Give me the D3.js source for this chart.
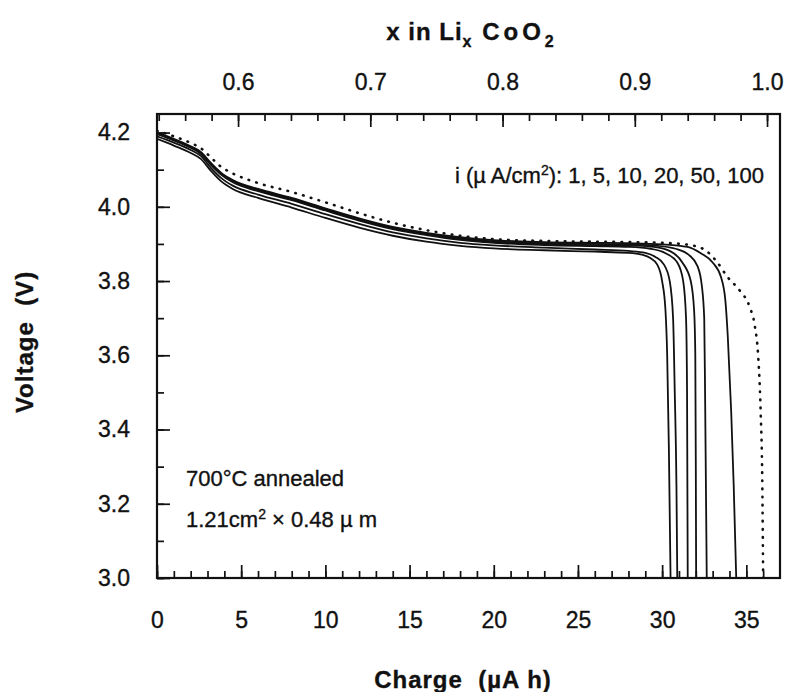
<!DOCTYPE html>
<html>
<head>
<meta charset="utf-8">
<script src="https://cdn.jsdelivr.net/npm/d3@7"></script>
<style>
  body { margin: 0; background: #fff; }
  text { font-family: "Liberation Sans", Arial, sans-serif; fill: #111; stroke: #111; stroke-width: 0.35px; }
</style>
</head>
<body>
<div id="chart"></div>
<script>
// charge (µAh) vs voltage (V)
const curveDotted = [[0,4.205],[1,4.19],[2,4.172],[2.6,4.158],[3.2,4.133],[3.8,4.108],[4.5,4.09],[6,4.064],[8,4.04],[10,4.012],[12,3.983],[14,3.957],[16,3.937],[18,3.922],[20,3.913],[23,3.908],[26,3.906],[28,3.905],[30,3.903],[31.5,3.898],[32.5,3.885],[33.2,3.855],[33.9,3.81],[34.6,3.775],[35.2,3.73],[35.5,3.68],[35.7,3.6],[35.85,3.45],[35.95,3.25],[36.0,3.0]];
const curveB = [[0,4.2],[1,4.183],[2,4.163],[2.6,4.148],[3.2,4.118],[3.8,4.092],[4.5,4.072],[6,4.048],[8,4.024],[10,3.996],[12,3.969],[14,3.946],[16,3.93],[18,3.918],[20,3.91],[23,3.905],[26,3.903],[28,3.902],[30,3.899],[31.5,3.892],[32.3,3.875],[33.0,3.85],[33.5,3.81],[33.75,3.75],[33.9,3.65],[34.1,3.45],[34.25,3.25],[34.4,3.0]];
const curveC = [[0,4.198],[1,4.181],[2,4.161],[2.6,4.146],[3.2,4.116],[3.8,4.09],[4.5,4.07],[6,4.046],[8,4.022],[10,3.994],[12,3.967],[14,3.944],[16,3.928],[18,3.915],[20,3.907],[23,3.902],[26,3.9],[28,3.899],[29.5,3.896],[30.8,3.887],[31.6,3.87],[32.1,3.84],[32.35,3.79],[32.5,3.7],[32.55,3.5],[32.6,3.25],[32.65,3.0]];
const curveD = [[0,4.197],[1,4.18],[2,4.16],[2.6,4.145],[3.2,4.115],[3.8,4.089],[4.5,4.068],[6,4.044],[8,4.02],[10,3.992],[12,3.965],[14,3.942],[16,3.926],[18,3.913],[20,3.905],[23,3.899],[26,3.897],[28,3.896],[29.5,3.892],[30.5,3.88],[31.2,3.85],[31.7,3.8],[31.9,3.72],[31.97,3.6],[32.0,3.3],[32.02,3.0]];
const curveE = [[0,4.196],[1,4.179],[2,4.159],[2.6,4.143],[3.2,4.113],[3.8,4.087],[4.5,4.066],[6,4.042],[8,4.018],[10,3.99],[12,3.963],[14,3.94],[16,3.924],[18,3.911],[20,3.903],[23,3.897],[26,3.894],[28,3.892],[29.3,3.887],[30.2,3.875],[30.9,3.85],[31.25,3.8],[31.42,3.7],[31.48,3.5],[31.52,3.0]];
const curveF = [[0,4.19],[1,4.173],[2,4.153],[2.6,4.137],[3.2,4.105],[3.8,4.078],[4.5,4.057],[6,4.033],[8,4.008],[10,3.98],[12,3.954],[14,3.931],[16,3.915],[18,3.903],[20,3.896],[23,3.89],[26,3.885],[28,3.881],[29,3.876],[29.6,3.865],[30.1,3.845],[30.45,3.8],[30.65,3.7],[30.75,3.5],[30.85,3.25],[30.9,3.0]];
const curveG = [[0,4.183],[1,4.165],[2,4.145],[2.6,4.129],[3.2,4.097],[3.8,4.069],[4.5,4.048],[6,4.024],[8,3.998],[10,3.97],[12,3.944],[14,3.922],[16,3.906],[18,3.895],[20,3.888],[23,3.883],[26,3.879],[28,3.876],[28.8,3.871],[29.3,3.862],[29.7,3.845],[30.0,3.8],[30.2,3.72],[30.3,3.6],[30.4,3.35],[30.5,3.0]];

const solidCurves = [curveB, curveC, curveD, curveE, curveF, curveG];

const chargeTicks = [0, 5, 10, 15, 20, 25, 30, 35];
const voltTicks = [3.0, 3.2, 3.4, 3.6, 3.8, 4.0, 4.2];
const xLiTicks = [0.6, 0.7, 0.8, 0.9, 1.0];

const width = 793;
const height = 692;
const plotLeft = 157, plotRight = 780, plotTop = 114, plotBottom = 578;

const svg = d3.select("#chart")
    .append("svg")
    .attr("width", width)
    .attr("height", height);

const x = d3.scaleLinear().domain([0, 37]).range([plotLeft, plotRight]);
const y = d3.scaleLinear().domain([3.0, 4.25]).range([plotBottom, plotTop]);
const xTop = d3.scaleLinear().domain([0.5387, 1.0098]).range([plotLeft, plotRight]);

// minor ticks first, then the labelled majors
function minor(axis) {
    return g => g.call(axis).call(g => g.select(".domain").remove())
        .call(g => g.selectAll("text").remove());
}

svg.append("g")
    .attr("transform", `translate(0,${plotBottom})`)
    .call(minor(d3.axisBottom(x).tickValues(d3.range(0, 37, 1)).tickSize(-7)));
svg.append("g")
    .attr("transform", `translate(${plotLeft},0)`)
    .call(minor(d3.axisLeft(y).tickValues(d3.range(3.0, 4.25, 0.1)).tickSize(-7)));
svg.append("g")
    .attr("transform", `translate(0,${plotTop})`)
    .call(minor(d3.axisTop(xTop).tickValues(d3.range(0.54, 1.01, 0.02)).tickSize(-7)));

const xAxis = svg.append("g")
    .attr("transform", `translate(0,${plotBottom})`)
    .call(d3.axisBottom(x).tickValues(chargeTicks).tickSize(-13).tickPadding(34).tickFormat(d3.format("d")));
const yAxis = svg.append("g")
    .attr("transform", `translate(${plotLeft},0)`)
    .call(d3.axisLeft(y).tickValues(voltTicks).tickSize(-13).tickPadding(27).tickFormat(d3.format(".1f")));
const topAxis = svg.append("g")
    .attr("transform", `translate(0,${plotTop})`)
    .call(d3.axisTop(xTop).tickValues(xLiTicks).tickSize(-13).tickPadding(24).tickFormat(d3.format(".1f")));

[xAxis, yAxis, topAxis].forEach(a => {
    a.select(".domain").remove();
    a.selectAll("text")
        .style("font-size", "23px")
        .style("font-family", "Liberation Sans, Arial, sans-serif")
        .attr("fill", "#111");
});
svg.selectAll(".tick line").attr("stroke", "#111").attr("stroke-width", 1.7);

// frame
svg.append("rect")
    .attr("x", plotLeft).attr("y", plotTop)
    .attr("width", plotRight - plotLeft).attr("height", plotBottom - plotTop)
    .attr("fill", "none")
    .attr("stroke", "#111")
    .attr("stroke-width", 2.2);

svg.append("clipPath").attr("id", "clip")
    .append("rect").attr("x", plotLeft).attr("y", plotTop).attr("width", plotRight - plotLeft).attr("height", plotBottom - plotTop);

const line = d3.line()
    .x(d => x(d[0]))
    .y(d => y(d[1]))
    .curve(d3.curveMonotoneX);

const plot = svg.append("g").attr("clip-path", "url(#clip)");

plot.selectAll(".solid")
    .data(solidCurves)
    .enter().append("path")
    .attr("class", "solid")
    .attr("d", line)
    .attr("fill", "none")
    .attr("stroke", "#111")
    .attr("stroke-width", 1.8);

plot.append("path")
    .datum(curveDotted)
    .attr("d", line)
    .attr("fill", "none")
    .attr("stroke", "#111")
    .attr("stroke-width", 2.6)
    .attr("stroke-linecap", "round")
    .attr("stroke-dasharray", "0.6,7.5");

// titles
const topTitle = svg.append("text")
    .attr("x", 470).attr("y", 40)
    .attr("text-anchor", "middle")
    .style("font-size", "24px")
    .style("font-weight", "bold");
topTitle.append("tspan").attr("letter-spacing", "1px").text("x in Li");
topTitle.append("tspan").attr("dy", 7).style("font-size", "16px").text("x");
topTitle.append("tspan").attr("dy", -7).attr("letter-spacing", "4px").text(" CoO");
topTitle.append("tspan").attr("dy", 7).style("font-size", "16px").text("2");

svg.append("text")
    .attr("x", 463).attr("y", 688)
    .attr("text-anchor", "middle")
    .attr("letter-spacing", "1px")
    .style("font-size", "24px")
    .style("font-weight", "bold")
    .text("Charge\u00a0\u00a0(µA h)");

svg.append("text")
    .attr("transform", "translate(33,342) rotate(-90)")
    .attr("text-anchor", "middle")
    .attr("letter-spacing", "1px")
    .style("font-size", "24px")
    .style("font-weight", "bold")
    .text("Voltage\u00a0\u00a0(V)");

// annotations
const legend = svg.append("text")
    .attr("x", 764).attr("y", 183)
    .attr("text-anchor", "end")
    .style("font-size", "22px");
legend.append("tspan").text("i (µ A/cm");
legend.append("tspan").attr("dy", -8).style("font-size", "14px").text("2");
legend.append("tspan").attr("dy", 8).text("): 1, 5, 10, 20, 50, 100");

svg.append("text")
    .attr("x", 186).attr("y", 486)
    .style("font-size", "22px")
    .text("700°C annealed");

const dims = svg.append("text")
    .attr("x", 186).attr("y", 527)
    .style("font-size", "22px");
dims.append("tspan").text("1.21cm");
dims.append("tspan").attr("dy", -8).style("font-size", "14px").text("2");
dims.append("tspan").attr("dy", 8).text(" × 0.48 µ m");
</script>
</body>
</html>
